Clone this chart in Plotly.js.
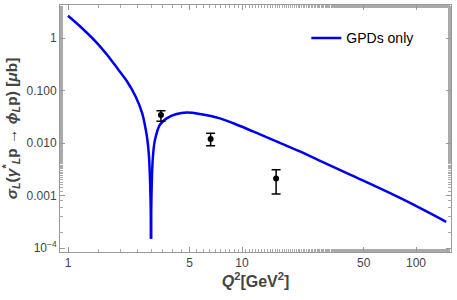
<!DOCTYPE html>
<html>
<head>
<meta charset="utf-8">
<script src="https://cdn.plot.ly/plotly-3.0.1.min.js"></script>
<style>html,body{margin:0;padding:0;background:#fff;}#chart{width:457px;height:300px;}</style>
</head>
<body>
<div id="chart"></div>
<script>
// GPD-only curve (left branch down to the dip, right branch from the dip)
const leftQ2 = [1.00, 1.18, 1.474, 1.68, 1.92, 2.19, 2.45, 2.67, 2.80, 2.86, 2.92, 2.96, 2.99, 3.00];
const leftSigma = [2.66, 1.64, 0.793, 0.474, 0.265, 0.147, 0.0762, 0.0368, 0.0177, 0.0114, 0.0055, 0.002, 0.0005, 0.00015];
const rightQ2 = [3.00, 3.01, 3.04, 3.08, 3.16, 3.38, 3.69, 4.21, 4.81, 5.73, 7.47, 9.74, 12.7, 16.5, 21.5, 27.5, 41.8, 80.9, 149];
const rightSigma = [0.00015, 0.0006, 0.0025, 0.0058, 0.0114, 0.0225, 0.0295, 0.0357, 0.038, 0.0357, 0.0295, 0.0211, 0.0146, 0.0101, 0.0069, 0.00474, 0.0025, 0.0009, 0.000316];

// data points with asymmetric errors
const dataQ2 = [3.42, 6.6, 15.7];
const dataSigma = [0.034, 0.0119, 0.0021];
const errPlus = [0.007, 0.0034, 0.0010];
const errMinus = [0.008, 0.0030, 0.00103];

// tick labels
const xTickVals = [1, 5, 10, 50, 100];
const xTickText = ['1', '5', '10', '50', '100'];
const yTickVals = [1, 0.1, 0.01, 0.001, 0.0001];
const yTickText = ['1', '0.100', '0.010', '0.001', '10<sup>−4</sup>'];

const lineStyle = {color: '#0000ee', width: 2.5, shape: 'spline', smoothing: 1};
const traces = [
  {
    x: leftQ2, y: leftSigma, type: 'scatter', mode: 'lines',
    name: 'GPDs only', legendgroup: 'gpd',
    line: lineStyle, hoverinfo: 'skip'
  },
  {
    x: rightQ2, y: rightSigma, type: 'scatter', mode: 'lines',
    name: 'GPDs only', legendgroup: 'gpd', showlegend: false,
    line: lineStyle, hoverinfo: 'skip'
  },
  {
    x: dataQ2, y: dataSigma, type: 'scatter', mode: 'markers',
    showlegend: false,
    marker: {color: '#000', size: 6},
    error_y: {type: 'data', symmetric: false, array: errPlus, arrayminus: errMinus, color: '#000', thickness: 1.5, width: 4.5}
  }
];

const axisCommon = {
  showline: true, linecolor: '#999', linewidth: 1, mirror: 'ticks',
  ticks: 'inside', ticklen: 5, tickcolor: '#999', tickwidth: 1,
  showgrid: false, zeroline: false,
  tickfont: {family: 'Liberation Sans, Arial, sans-serif', size: 12, color: '#444'},
  minor: {ticks: 'inside', ticklen: 3, tickcolor: '#aaa', showgrid: false}
};

const layout = {
  width: 457, height: 300,
  margin: {l: 60, r: 6, t: 5, b: 48},
  paper_bgcolor: '#fff', plot_bgcolor: '#fff',
  showlegend: true,
  legend: {x: 0.63, y: 0.93, xanchor: 'left', yanchor: 'top', bgcolor: 'rgba(0,0,0,0)',
           font: {family: 'Liberation Sans, Arial, sans-serif', size: 14, color: '#000'}},
  xaxis: Object.assign({}, axisCommon, {
    type: 'log', range: [-0.046, 2.201],
    tickvals: xTickVals, ticktext: xTickText,
    title: {text: '<i>Q</i><sup>2</sup>[GeV<sup>2</sup>]', standoff: 6,
            font: {family: 'Liberation Sans, Arial, sans-serif', size: 16, color: '#444', weight: 'bold'}}
  }),
  yaxis: Object.assign({}, axisCommon, {
    type: 'log', range: [-4.076, 0.629],
    tickvals: yTickVals, ticktext: yTickText,
    title: {text: '<i>σ</i><sub><i>L</i></sub>(<i>γ</i><sup>*</sup><sub><i>L</i></sub>p → <i>ϕ</i><sub><i>L</i></sub>p) [<i>μ</i>b]', standoff: 6,
            font: {family: 'Liberation Sans, Arial, sans-serif', size: 15.5, color: '#444', weight: 'bold'}}
  })
};

Plotly.newPlot('chart', traces, layout, {displayModeBar: false, staticPlot: true});
</script>
</body>
</html>
